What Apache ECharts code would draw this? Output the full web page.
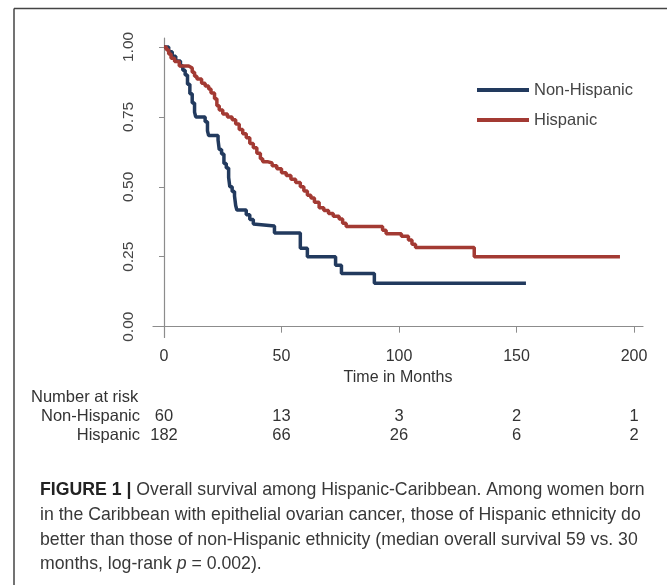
<!DOCTYPE html>
<html>
<head>
<meta charset="utf-8">
<script src="https://cdn.jsdelivr.net/npm/echarts@6/dist/echarts.min.js"></script>
<style>
  html, body { margin: 0; padding: 0; background: #fff; }
  #main { width: 667px; height: 585px; }
</style>
</head>
<body>
<div id="main"></div>
<script>
// x ticks (months) and y ticks (survival)
const monthTicks = [0, 50, 100, 150, 200];
const survTicks = [0, 0.25, 0.5, 0.75, 1];

// Kaplan-Meier steps (time of drop, survival after drop)
const nonHispTime = [0, 2, 3.5, 5, 7, 8, 9, 10, 11, 12, 13, 13.5, 17.5, 18.5, 19, 23, 23.5, 24.5, 25.5, 26.5,
  27.5, 28, 29, 30, 30.5, 31, 35, 36.5, 38, 38.5, 47, 58, 61, 73, 75.5, 89.5, 154];
const nonHispSurv = [1, 0.983, 0.967, 0.95, 0.933, 0.917, 0.9, 0.867, 0.833, 0.8, 0.767, 0.75, 0.733, 0.7, 0.683, 0.667, 0.633, 0.617, 0.583, 0.567,
  0.533, 0.5, 0.483, 0.467, 0.433, 0.417, 0.4, 0.383, 0.367, 0.36, 0.335, 0.28, 0.25, 0.22, 0.19, 0.155, 0.155];

const hispTime = [0, 1, 2, 3, 4.5, 6.5, 10.5, 12, 13, 14, 16, 17.5, 19, 20, 21.5, 22.5, 23.5, 25, 27, 29,
  30.5, 32, 33.5, 35, 36.5, 38, 39.5, 41, 42, 44, 46, 48, 50, 52, 54, 56, 58, 59.5, 61, 62.5,
  64, 66, 68, 70, 72, 74.5, 76, 77.5, 93, 94.5, 101, 104, 105.5, 107, 132, 194];
const hispSurv = [1, 0.99, 0.975, 0.96, 0.948, 0.932, 0.925, 0.91, 0.895, 0.885, 0.87, 0.86, 0.85, 0.835, 0.815, 0.79, 0.775, 0.76, 0.75, 0.74,
  0.725, 0.705, 0.69, 0.675, 0.655, 0.64, 0.62, 0.6, 0.59, 0.585, 0.575, 0.565, 0.55, 0.54, 0.527, 0.515, 0.5, 0.485, 0.47, 0.46,
  0.445, 0.425, 0.415, 0.405, 0.395, 0.385, 0.37, 0.358, 0.345, 0.332, 0.323, 0.31, 0.295, 0.283, 0.25, 0.25];

// number at risk table
const riskGroups = ['Non-Hispanic', 'Hispanic'];
const riskNonHisp = [60, 13, 3, 2, 1];
const riskHisp = [182, 66, 26, 6, 2];

const FONT = 'Liberation Sans, Arial, Helvetica, sans-serif';
const myChart = echarts.init(document.getElementById('main'));

function zip(ts, ss) {
  return ts.map(function (t, i) { return [t, ss[i]]; });
}

const option = {
  animation: false,
  backgroundColor: '#fff',
  textStyle: { fontFamily: FONT },
  grid: { left: 153, right: 24, top: 38, bottom: 247.5 },
  legend: {
    orient: 'vertical',
    left: 472,
    top: 75,
    itemWidth: 52,
    itemHeight: 4,
    itemGap: 10,
    icon: 'rect',
    textStyle: { fontSize: 16.5, color: '#444', lineHeight: 20 },
    data: riskGroups
  },
  xAxis: {
    type: 'value',
    min: -4.68,
    max: 203.8,
    name: 'Time in Months',
    nameLocation: 'middle',
    nameGap: 26,
    nameTextStyle: { fontSize: 16, color: '#333' },
    axisLine: { lineStyle: { color: '#8c8c8c', width: 1.2 } },
    axisTick: { customValues: monthTicks, length: 6, lineStyle: { color: '#8c8c8c' } },
    axisLabel: { customValues: monthTicks, fontSize: 16, color: '#333', margin: 11 },
    splitLine: { show: false }
  },
  yAxis: {
    type: 'value',
    min: -0.0387,
    max: 1.032,
    axisLine: { show: true, lineStyle: { color: '#8c8c8c', width: 1.2 } },
    axisTick: { show: true, customValues: survTicks, length: 5, lineStyle: { color: '#8c8c8c' } },
    axisLabel: {
      customValues: survTicks, fontSize: 15.5, color: '#444', rotate: 90, margin: 16,
      formatter: function (v) { return v.toFixed(2); }
    },
    splitLine: { show: false }
  },
  series: [
    {
      name: 'Non-Hispanic',
      type: 'line',
      step: 'end',
      symbol: 'none',
      color: '#223a5e',
      lineStyle: { width: 3.5, color: '#223a5e' },
      data: zip(nonHispTime, nonHispSurv)
    },
    {
      name: 'Hispanic',
      type: 'line',
      step: 'end',
      symbol: 'none',
      color: '#a33a33',
      lineStyle: { width: 3.5, color: '#a33a33' },
      data: zip(hispTime, hispSurv)
    }
  ]
};
myChart.setOption(option);

// risk table and caption, placed with the x axis scale
const graphics = [
  { type: 'line', shape: { x1: 14, y1: 8.5, x2: 667, y2: 8.5 }, style: { stroke: '#444', lineWidth: 1.5 } },
  { type: 'line', shape: { x1: 14, y1: 8.5, x2: 14, y2: 585 }, style: { stroke: '#444', lineWidth: 1.5 } },
  { type: 'text', x: 31, y: 397, style: { text: 'Number at risk', font: '16.5px ' + FONT, fill: '#333', verticalAlign: 'middle' } }
];
const rows = [riskNonHisp, riskHisp];
const rowY = [416, 435];
rows.forEach(function (vals, r) {
  graphics.push({ type: 'text', x: 140, y: rowY[r], style: { text: riskGroups[r], font: '16.5px ' + FONT, fill: '#333', align: 'right', verticalAlign: 'middle' } });
  vals.forEach(function (v, i) {
    const px = myChart.convertToPixel({ xAxisIndex: 0 }, monthTicks[i]);
    graphics.push({ type: 'text', x: px, y: rowY[r], style: { text: String(v), font: '16.5px ' + FONT, fill: '#333', align: 'center', verticalAlign: 'middle' } });
  });
});
graphics.push({
  type: 'text',
  x: 40,
  y: 478,
  style: {
    text: '{b|FIGURE 1 |} Overall survival among Hispanic-Caribbean. Among women born\n' +
      'in the Caribbean with epithelial ovarian cancer, those of Hispanic ethnicity do\n' +
      'better than those of non-Hispanic ethnicity (median overall survival 59 vs. 30\n' +
      'months, log-rank {i|p} = 0.002).',
    font: '17.7px ' + FONT,
    fill: '#383838',
    lineHeight: 24.7,
    rich: {
      b: { fontWeight: 'bold', fontSize: 17.7, fill: '#222', lineHeight: 24.7, fontFamily: FONT },
      i: { fontStyle: 'italic', fontSize: 17.7, fill: '#383838', lineHeight: 24.7, fontFamily: FONT }
    }
  }
});
myChart.setOption({ graphic: graphics });
</script>
</body>
</html>
